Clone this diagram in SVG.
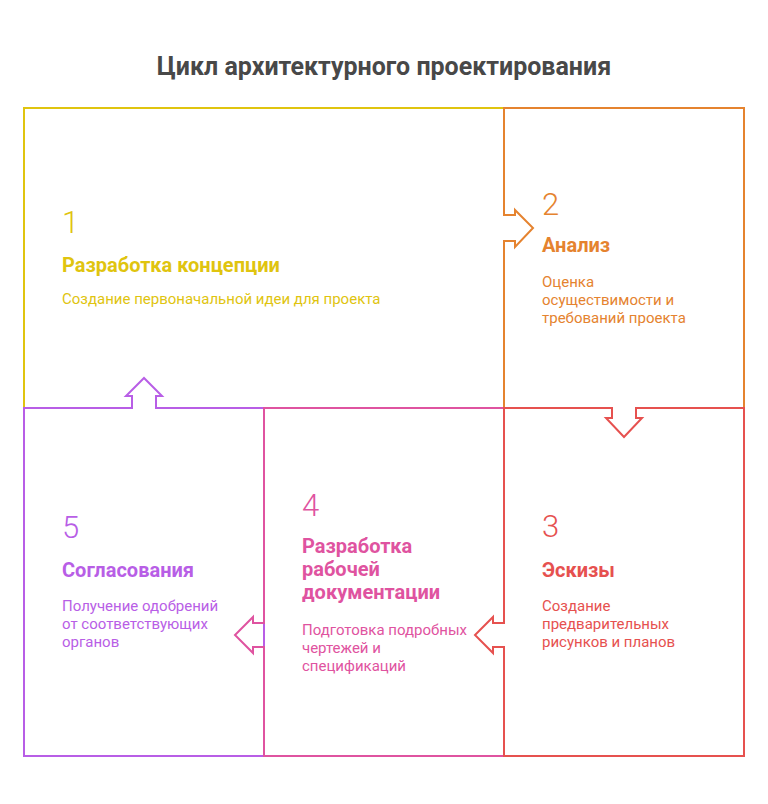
<svg xmlns="http://www.w3.org/2000/svg" width="768" height="804" viewBox="0 0 768 804">
<style>
text{font-family:Roboto,"Liberation Sans",sans-serif}
.num{font-size:31px;font-weight:300}
.hd{font-size:20px;font-weight:700}
.bd{font-size:15px;font-weight:400}
.edge{fill:none;stroke-width:2}
.y{fill:#e0c40f}.ys{stroke:#e0c40f}
.o{fill:#e5832f}.os{stroke:#e5832f}
.r{fill:#e6514f}.rs{stroke:#e6514f}
.p{fill:#df53a0}.ps{stroke:#df53a0}
.v{fill:#b85ee6}.vs{stroke:#b85ee6}
</style>
<rect width="768" height="804" fill="#ffffff"/>
<text x="384" y="75" text-anchor="middle" font-size="25" font-weight="700" fill="#484848">Цикл архитектурного проектирования</text>
<g id="connectors">
<path class="edge ys" d="M504,108 L24,108 L24,408"/>
<path class="edge vs" d="M264,408 L156,408 L156,396 L162,396 L144,378 L126,396 L132,396 L132,408 L24,408 L24,756 L264,756 Z"/>
<path class="edge os" d="M504,408 L504,241 L515,241 L515,247 L533,228 L515,210 L515,215 L504,215 L504,108 L744,108 L744,408"/>
<path class="edge ps" d="M504,408 L264,408 L264,623 L253,623 L253,617 L235,635 L253,653 L253,647 L264,647 L264,756 L504,756"/>
<path class="edge rs" d="M504,408 L612,408 L612,418 L606,418 L624,437 L642,418 L636,418 L636,408 L744,408 L744,756 L504,756 L504,647 L493,647 L493,653 L475,635 L493,617 L493,623 L504,623 Z"/>
</g>
<g id="node1">
<text class="num y" x="62" y="233">1</text>
<text class="hd y" x="62" y="272">Разработка концепции</text>
<text class="bd y" x="62" y="304">Создание первоначальной идеи для проекта</text>
</g>
<g id="node2">
<text class="num o" x="542" y="215">2</text>
<text class="hd o" x="542" y="252">Анализ</text>
<text class="bd o" x="542" y="287">Оценка</text>
<text class="bd o" x="542" y="305">осуществимости и</text>
<text class="bd o" x="542" y="323">требований проекта</text>
</g>
<g id="node3">
<text class="num r" x="542" y="537">3</text>
<text class="hd r" x="542" y="577">Эскизы</text>
<text class="bd r" x="542" y="611">Создание</text>
<text class="bd r" x="542" y="629">предварительных</text>
<text class="bd r" x="542" y="647">рисунков и планов</text>
</g>
<g id="node4">
<text class="num p" x="302" y="516">4</text>
<text class="hd p" x="302" y="553">Разработка</text>
<text class="hd p" x="302" y="576">рабочей</text>
<text class="hd p" x="302" y="599">документации</text>
<text class="bd p" x="302" y="635">Подготовка подробных</text>
<text class="bd p" x="302" y="653">чертежей и</text>
<text class="bd p" x="302" y="671">спецификаций</text>
</g>
<g id="node5">
<text class="num v" x="62" y="538">5</text>
<text class="hd v" x="62" y="577">Согласования</text>
<text class="bd v" x="62" y="611">Получение одобрений</text>
<text class="bd v" x="62" y="629">от соответствующих</text>
<text class="bd v" x="62" y="647">органов</text>
</g>
</svg>
